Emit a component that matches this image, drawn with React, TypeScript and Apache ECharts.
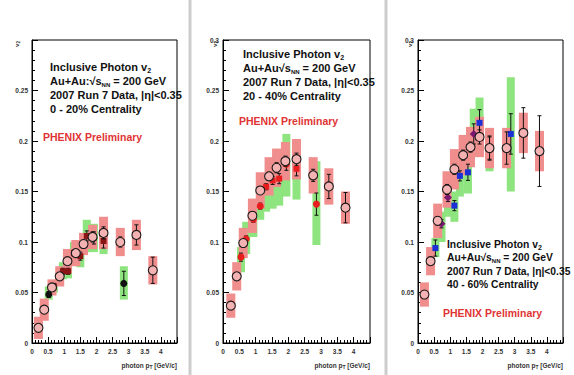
import React, { useEffect, useRef } from "react";
import * as echarts from "echarts";

// ---------- Panel 1: 0 - 20% centrality ----------
const p1OpenX = [0.2, 0.38, 0.62, 0.86, 1.1, 1.36, 1.6, 1.88, 2.22, 2.74, 3.24, 3.75];
const p1OpenY = [0.015, 0.033, 0.055, 0.066, 0.081, 0.089, 0.098, 0.105, 0.109, 0.1, 0.107, 0.072];
const p1OpenStat = [0.003, 0.003, 0.003, 0.003, 0.003, 0.003, 0.004, 0.005, 0.006, 0.005, 0.01, 0.013];
const p1OpenSys = [0.011, 0.011, 0.008, 0.01, 0.012, 0.013, 0.011, 0.012, 0.016, 0.014, 0.015, 0.014];
const p1CircX = [0.52, 1.92, 2.85];
const p1CircY = [0.048, 0.104, 0.059];
const p1CircStat = [0.003, 0.006, 0.012];
const p1CircSysLo = [0.043, 0.09, 0.043];
const p1CircSysHi = [0.056, 0.118, 0.076];
const p1SqX = [0.68, 0.96, 1.12, 1.3, 1.5, 1.7, 2.22];
const p1SqY = [0.056, 0.071, 0.071, 0.089, 0.086, 0.106, 0.101];
const p1SqStat = [0.003, 0.003, 0.003, 0.003, 0.004, 0.005, 0.007];
const p1SqSysLo = [0.05, 0.063, 0.064, 0.08, 0.075, 0.09, 0.088];
const p1SqSysHi = [0.062, 0.08, 0.08, 0.1, 0.092, 0.122, 0.112];

// ---------- Panel 2: 20 - 40% centrality ----------
const p2OpenX = [0.24, 0.42, 0.62, 0.9, 1.14, 1.41, 1.64, 1.91, 2.25, 2.76, 3.24, 3.75];
const p2OpenY = [0.037, 0.066, 0.099, 0.126, 0.151, 0.165, 0.1735, 0.18, 0.182, 0.166, 0.155, 0.134];
const p2OpenStat = [0.003, 0.003, 0.003, 0.004, 0.004, 0.004, 0.005, 0.005, 0.006, 0.006, 0.012, 0.015];
const p2OpenSys = [0.012, 0.014, 0.015, 0.017, 0.018, 0.019, 0.019, 0.019, 0.02, 0.018, 0.018, 0.016];
const p2CircX = [0.55, 0.71, 0.93, 1.14, 1.94, 2.86];
const p2CircY = [0.085, 0.103, 0.1225, 0.1355, 0.177, 0.1375];
const p2CircStat = [0.004, 0.003, 0.003, 0.003, 0.006, 0.011];
const p2CircSysLo = [0.07, 0.088, 0.105, 0.122, 0.145, 0.097];
const p2CircSysHi = [0.095, 0.12, 0.13, 0.145, 0.207, 0.18];
const p2SqX = [1.32, 1.52, 1.72, 2.25];
const p2SqY = [0.1547, 0.161, 0.1627, 0.1725];
const p2SqStat = [0.003, 0.004, 0.005, 0.007];
const p2SqSysLo = [0.13, 0.133, 0.136, 0.142];
const p2SqSysHi = [0.165, 0.172, 0.18, 0.2];

// ---------- Panel 3: 40 - 60% centrality ----------
const p3OpenX = [0.2, 0.39, 0.61, 0.9, 1.13, 1.4, 1.63, 1.91, 2.22, 2.75, 3.27, 3.77];
const p3OpenY = [0.048, 0.081, 0.121, 0.152, 0.172, 0.186, 0.194, 0.204, 0.193, 0.193, 0.208, 0.19];
const p3OpenStat = [0.003, 0.004, 0.004, 0.005, 0.005, 0.005, 0.005, 0.007, 0.011, 0.016, 0.025, 0.035];
const p3OpenSys = [0.012, 0.014, 0.017, 0.018, 0.02, 0.02, 0.02, 0.02, 0.02, 0.02, 0.02, 0.02];
const p3SqX = [0.54, 1.13, 1.3, 1.55, 1.91, 2.88];
const p3SqY = [0.094, 0.136, 0.1655, 0.169, 0.218, 0.207];
const p3SqStat = [0.008, 0.005, 0.005, 0.008, 0.013, 0.02];
const p3SqSysLo = [0.085, 0.12, 0.145, 0.148, 0.19, 0.15];
const p3SqSysHi = [0.104, 0.15, 0.172, 0.178, 0.243, 0.263];
const p3DiaX = [0.73, 0.93, 1.73, 2.22];
const p3DiaY = [0.118, 0.144, 0.207, 0.193];
const p3DiaStat = [0.004, 0.004, 0.01, 0.012];
const p3DiaSysLo = [0.1, 0.125, 0.185, 0.17];
const p3DiaSysHi = [0.13, 0.14, 0.232, 0.21];

// ticks
const xTickLabels = ["0", "0.5", "1", "1.5", "2", "2.5", "3", "3.5", "4"];
const yTickLabels = ["0", "0.05", "0.1", "0.15", "0.2", "0.25", "0.3"];

const centralityLabels = ["0 - 20% Centrality", "20 - 40% Centrality", "40 - 60% Centrality"];
const energyLines = ["Au+Au:√{sub|s}{nn|NN} = 200 GeV", "Au+Au√{sub|s}{nn|NN} = 200 GeV", "Au+Au√{sub|s}{nn|NN} = 200 GeV"];

const grids = [
  { left: 32, top: 40, width: 145, height: 303 },
  { left: 223, top: 40, width: 147, height: 303 },
  { left: 418, top: 40, width: 145, height: 303 },
];

const PINK = "#f08e8e";
const GREEN = "#8ee47e";
const OPEN_FILL = "#f4b2b2";

const boxItem = (w: number, fill: string) => (_p: any, api: any) => {
  const x = api.value(0);
  const t = api.coord([x, api.value(2)]);
  const b = api.coord([x, api.value(1)]);
  return {
    type: "rect",
    shape: { x: t[0] - w / 2, y: t[1], width: w, height: b[1] - t[1] },
    style: { fill },
  };
};

const errItem = (_p: any, api: any) => {
  const x = api.value(0);
  const t = api.coord([x, api.value(2)]);
  const b = api.coord([x, api.value(1)]);
  const c = 2;
  const st = { stroke: "#111", lineWidth: 1 };
  return {
    type: "group",
    children: [
      { type: "line", shape: { x1: t[0], y1: t[1], x2: b[0], y2: b[1] }, style: st },
      { type: "line", shape: { x1: t[0] - c, y1: t[1], x2: t[0] + c, y2: t[1] }, style: st },
      { type: "line", shape: { x1: b[0] - c, y1: b[1], x2: b[0] + c, y2: b[1] }, style: st },
    ],
  };
};

type Filled = { x: number[]; y: number[]; stat: number[]; lo: number[]; hi: number[]; symbol: string; size: number; color: string };
type Panel = { ox: number[]; oy: number[]; ostat: number[]; osys: number[]; filled: Filled[] };

const panels: Panel[] = [
  {
    ox: p1OpenX, oy: p1OpenY, ostat: p1OpenStat, osys: p1OpenSys,
    filled: [
      { x: p1SqX, y: p1SqY, stat: p1SqStat, lo: p1SqSysLo, hi: p1SqSysHi, symbol: "rect", size: 6, color: "#8a1616" },
      { x: p1CircX, y: p1CircY, stat: p1CircStat, lo: p1CircSysLo, hi: p1CircSysHi, symbol: "circle", size: 7, color: "#111111" },
    ],
  },
  {
    ox: p2OpenX, oy: p2OpenY, ostat: p2OpenStat, osys: p2OpenSys,
    filled: [
      { x: p2SqX, y: p2SqY, stat: p2SqStat, lo: p2SqSysLo, hi: p2SqSysHi, symbol: "rect", size: 6, color: "#e81e1e" },
      { x: p2CircX, y: p2CircY, stat: p2CircStat, lo: p2CircSysLo, hi: p2CircSysHi, symbol: "circle", size: 7, color: "#e81e1e" },
    ],
  },
  {
    ox: p3OpenX, oy: p3OpenY, ostat: p3OpenStat, osys: p3OpenSys,
    filled: [
      { x: p3SqX, y: p3SqY, stat: p3SqStat, lo: p3SqSysLo, hi: p3SqSysHi, symbol: "rect", size: 6, color: "#1b2fd6" },
      { x: p3DiaX, y: p3DiaY, stat: p3DiaStat, lo: p3DiaSysLo, hi: p3DiaSysHi, symbol: "diamond", size: 8, color: "#7a1870" },
    ],
  },
];

function buildOption() {
  const series: any[] = [];
  panels.forEach((p, i) => {
    const axes = { xAxisIndex: i, yAxisIndex: i };
    p.filled.forEach((f) => {
      series.push({
        type: "custom", ...axes, z: 1, renderItem: boxItem(8, GREEN), encode: { x: 0, y: [1, 2] },
        data: f.x.map((x, k) => [x, f.lo[k], f.hi[k]]),
      });
    });
    series.push({
      type: "custom", ...axes, z: 2, renderItem: boxItem(9, PINK), encode: { x: 0, y: [1, 2] },
      data: p.ox.map((x, k) => [x, p.oy[k] - p.osys[k], p.oy[k] + p.osys[k]]),
    });
    p.filled.forEach((f) => {
      series.push({
        type: "custom", ...axes, z: 3, renderItem: errItem, encode: { x: 0, y: [1, 2] },
        data: f.x.map((x, k) => [x, f.y[k] - f.stat[k], f.y[k] + f.stat[k]]),
      });
      series.push({
        type: "scatter", ...axes, z: 4, symbol: f.symbol, symbolSize: f.size,
        itemStyle: { color: f.color, opacity: 1 },
        data: f.x.map((x, k) => [x, f.y[k]]),
      });
    });
    series.push({
      type: "custom", ...axes, z: 5, renderItem: errItem, encode: { x: 0, y: [1, 2] },
      data: p.ox.map((x, k) => [x, p.oy[k] - p.ostat[k], p.oy[k] + p.ostat[k]]),
    });
    series.push({
      type: "scatter", ...axes, z: 6, symbol: "circle", symbolSize: 9,
      itemStyle: { color: OPEN_FILL, borderColor: "#1a1a1a", borderWidth: 1.1, opacity: 1 },
      data: p.ox.map((x, k) => [x, p.oy[k]]),
    });
  });

  const labelFont = { fontSize: 6.5, fontWeight: "bold" as const, color: "#333", fontFamily: "Liberation Sans, Arial, sans-serif" };

  const xAxis = grids.map((_, i) => ({
    type: "value", gridIndex: i, min: 0, max: 4.5, interval: 0.5,
    axisLine: { show: true, lineStyle: { color: "#000", width: 1 } },
    axisTick: { show: true, inside: true, length: 6, lineStyle: { color: "#000" } },
    minorTick: { show: true, splitNumber: 5, length: 3, lineStyle: { color: "#000" } },
    splitLine: { show: false },
    axisLabel: {
      ...labelFont, margin: 5,
      formatter: (v: number) => { const k = Math.round(v * 2); return k < xTickLabels.length ? xTickLabels[k] : ""; },
    },
  }));
  const yAxis = grids.map((_, i) => ({
    type: "value", gridIndex: i, min: 0, max: 0.3, interval: 0.05,
    axisLine: { show: true, lineStyle: { color: "#000", width: 1 } },
    axisTick: { show: true, inside: true, length: 6, lineStyle: { color: "#000" } },
    minorTick: { show: true, splitNumber: 5, length: 3, lineStyle: { color: "#000" } },
    splitLine: { show: false },
    axisLabel: {
      ...labelFont, margin: 4,
      formatter: (v: number) => { const k = Math.round(v * 20); if (i === 0 && k === 6) return ""; return yTickLabels[k] ?? ""; },
    },
  }));

  const textX = [50, 243, 447];
  const textY = [67, 54, 244];
  const textSize = [11, 11, 10.3];
  const textStep = [14, 14, 13.5];
  const phenixPos = [[43, 137], [239, 121], [443, 313]];
  const font = "Liberation Sans, Arial, sans-serif";
  const graphic: any[] = [];
  [190, 386].forEach((x) => graphic.push({ type: "rect", shape: { x: x - 1.5, y: 0, width: 3, height: 375 }, style: { fill: "#cdcdcd" } }));
  grids.forEach((g, i) => {
    const fs = textSize[i];
    const rich = {
      sub: { fontSize: fs, fontWeight: "bold", fontFamily: font, fill: "#111" },
      nn: { fontSize: 6, fontWeight: "bold", fontFamily: font, fill: "#111", padding: [7, 0, 0, 0] },
      s2: { fontSize: 7, fontWeight: "bold", fontFamily: font, fill: "#111", padding: [7, 0, 0, 0] },
    };
    const lines = ["Inclusive Photon v{s2|2}", energyLines[i], "2007 Run 7 Data, |η|<0.35", centralityLabels[i]];
    lines.forEach((t, k) => {
      graphic.push({
        type: "text", x: textX[i], y: textY[i] + k * textStep[i], z: 10,
        style: { text: t, fontSize: fs, fontWeight: "bold", fontFamily: font, fill: "#111", verticalAlign: "middle", align: "left", rich },
      });
    });
    graphic.push({
      type: "text", x: phenixPos[i][0], y: phenixPos[i][1], z: 10,
      style: { text: "PHENIX Preliminary", fontSize: 10.5, fontWeight: "bold", fontFamily: font, fill: "#e03434", verticalAlign: "middle", align: "left" },
    });
    graphic.push({
      type: "text", x: g.left + g.width, y: 365, z: 10,
      style: {
        text: "photon p{t|T} [GeV/c]", fontSize: 6.5, fontWeight: "bold", fontFamily: font, fill: "#333", verticalAlign: "middle", align: "right",
        rich: { t: { fontSize: 5, fontWeight: "bold", fontFamily: font, fill: "#333", padding: [4, 0, 0, 0] } },
      },
    });
    graphic.push({
      type: "text", x: g.left - (i === 0 ? 15 : 8), y: 44, rotation: Math.PI / 2, z: 10,
      style: {
        text: "v{t|2}", fontSize: 6, fontWeight: "bold", fontFamily: font, fill: "#333", verticalAlign: "middle", align: "center",
        rich: { t: { fontSize: 4.5, fontWeight: "bold", fontFamily: font, fill: "#333", padding: [3, 0, 0, 0] } },
      },
    });
  });

  return {
    animation: false,
    backgroundColor: "#ffffff",
    grid: grids.map((g) => ({ ...g, show: true, borderColor: "#000", borderWidth: 1, backgroundColor: "transparent" })),
    xAxis,
    yAxis,
    series,
    graphic,
  };
}

export default function App() {
  const ref = useRef<HTMLDivElement>(null);
  useEffect(() => {
    document.body.style.margin = "0";
    const chart = echarts.init(ref.current as HTMLDivElement, null, { renderer: "svg" });
    chart.setOption(buildOption() as any);
    return () => chart.dispose();
  }, []);
  return <div ref={ref} style={{ width: 574, height: 375, background: "#fff" }} />;
}
